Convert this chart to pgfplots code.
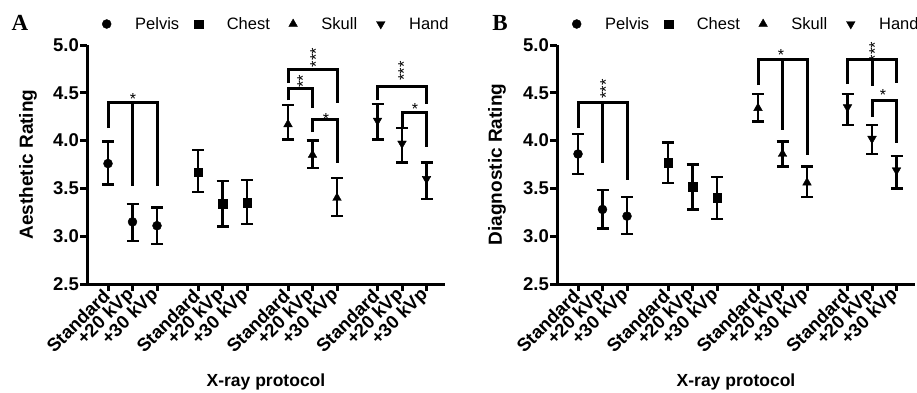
\documentclass[border=0pt]{standalone}
\usepackage{fontspec}
\setmainfont{Liberation Sans}
\newfontfamily\panelfont{Liberation Serif}
\usepackage{pgfplots}
\usepackage{pgfplotstable}
\pgfplotsset{compat=1.18}

% Panel A (Aesthetic)
\pgfplotstableread{
x y hi lo
21 3.76 3.99 3.54
45.5 3.15 3.34 2.95
70 3.11 3.30 2.92
}\pelA
\pgfplotstableread{
x y hi lo
111 3.67 3.90 3.46
135.5 3.34 3.58 3.10
160 3.35 3.59 3.13
}\cheA
\pgfplotstableread{
x y hi lo
201 4.17 4.37 4.01
225.5 3.85 4.00 3.71
250 3.40 3.61 3.21
}\skuA
\pgfplotstableread{
x y hi lo
290.5 4.21 4.38 4.01
315 3.97 4.13 3.77
339.5 3.60 3.77 3.39
}\hanA
% Panel B (Diagnostic)
\pgfplotstableread{
x y hi lo
21 3.86 4.07 3.65
45.5 3.28 3.48 3.08
70 3.21 3.41 3.02
}\pelB
\pgfplotstableread{
x y hi lo
111 3.77 3.98 3.56
135.5 3.52 3.75 3.28
160 3.40 3.62 3.18
}\cheB
\pgfplotstableread{
x y hi lo
201 4.34 4.49 4.20
225.5 3.86 3.99 3.73
250 3.56 3.73 3.41
}\skuB
\pgfplotstableread{
x y hi lo
290.5 4.35 4.49 4.16
315 4.02 4.16 3.86
339.5 3.69 3.84 3.50
}\hanB

\pgfplotsset{
  table/errcols/.style={x=x, y=y, y error plus expr=\thisrow{hi}-\thisrow{y}, y error minus expr=\thisrow{y}-\thisrow{lo}},
  myaxis/.style={
    scale only axis, width=358pt, height=239pt,
    xmin=0, xmax=358, ymin=2.5, ymax=5.0,
    axis x line=bottom, axis y line=left,
    axis line style={-, line width=3pt, black},
    ytick={2.5,3.0,3.5,4.0,4.5,5.0},
    /pgf/number format/fixed, /pgf/number format/fixed zerofill, /pgf/number format/precision=1,
    /pgf/number format/assume math mode=true,
    xtick={21,45.5,70,111,135.5,160,201,225.5,250,290.5,315,339.5},
    xticklabels={Standard,+20 kVp,+30 kVp,Standard,+20 kVp,+30 kVp,Standard,+20 kVp,+30 kVp,Standard,+20 kVp,+30 kVp},
    tick style={line width=3pt, black},
    major tick length=7pt,
    tick align=outside,
    ticklabel style={font=\bfseries\fontsize{18.5}{20}\selectfont},
    yticklabel style={inner xsep=1pt},
    xticklabel style={rotate=45, anchor=east, inner sep=2pt},
    clip=false,
    legend columns=4,
    legend image code/.code={\draw[##1] plot coordinates {(0pt,0pt)};},
    legend style={draw=none, fill=none, at={(0,1)}, anchor=west,
      xshift=15pt, yshift=21pt, inner sep=0pt,
      font=\fontsize{16.5}{18}\selectfont,
      /tikz/every odd column/.append style={column sep=22pt},
      /tikz/every even column/.append style={column sep=0pt}},
  },
  pt/.style={black, only marks, forget plot,
    error bars/y dir=both, error bars/y explicit,
    error bars/error bar style={line width=2.3pt, black},
    error bars/error mark options={rotate=90, mark size=6pt, line width=2.3pt, black}},
  brk/.style={black, line width=3pt, no markers, forget plot, line join=miter},
}
\newcommand{\sstar}[2]{\node[anchor=base, inner sep=0pt, font=\fontsize{16}{16}\selectfont] at ([yshift=-9.3pt]axis cs:#1,#2) {*};}
\newcommand{\vstar}[3]{\node[rotate=90, anchor=base, inner sep=0pt, font=\fontsize{16.5}{16.5}\selectfont] at ([xshift=9.6pt]axis cs:#1,#2) {#3};}
\newcommand{\legendimgs}{%
  \addlegendimage{black, only marks, mark=*, mark size=4.5pt}
  \addlegendentry{\makebox[57pt][l]{Pelvis}}
  \addlegendimage{black, only marks, mark=square*, mark size=4.3pt}
  \addlegendentry{\makebox[60pt][l]{Chest}}
  \addlegendimage{black, only marks, mark=triangle*, mark size=5pt}
  \addlegendentry{\makebox[53pt][l]{Skull}}
  \addlegendimage{black, only marks, mark=triangle*, mark size=5pt, mark options={rotate=180}}
  \addlegendentry{\makebox[36pt][l]{Hand}}
}

\begin{document}
\begin{tikzpicture}
\useasboundingbox (0,0) rectangle (917pt,392pt);
% ---------------- Panel A ----------------
\begin{axis}[myaxis, at={(87pt,108pt)}, anchor=south west]
\legendimgs
\addplot[pt, mark=*, mark size=4.5pt] table[errcols] {\pelA};
\addplot[pt, mark=square*, mark size=4.3pt] table[errcols] {\cheA};
\addplot[pt, mark=triangle*, mark size=5pt] table[errcols] {\skuA};
\addplot[pt, mark=triangle*, mark size=5pt, mark options={rotate=180}] table[errcols] {\hanA};
% brackets
\addplot[brk] coordinates {(21,4.13) (21,4.40) (70,4.40) (70,3.52)};
\addplot[brk] coordinates {(45.5,4.40) (45.5,3.52)};
\addplot[brk] coordinates {(201,4.60) (201,4.74) (250,4.74) (250,4.39)};
\addplot[brk] coordinates {(201,4.42) (201,4.54) (225.5,4.54) (225.5,4.34)};
\addplot[brk] coordinates {(225.5,4.09) (225.5,4.22) (250,4.22) (250,3.77)};
\addplot[brk] coordinates {(290.5,4.42) (290.5,4.57) (339.5,4.57) (339.5,4.38)};
\addplot[brk] coordinates {(315,4.13) (315,4.29) (339.5,4.29) (339.5,3.93)};
\sstar{46}{4.48}
\vstar{225}{4.87}{***}
\vstar{212}{4.62}{**}
\sstar{239}{4.27}
\vstar{313}{4.73}{***}
\sstar{328}{4.37}
\node[font=\bfseries\fontsize{19}{21}\selectfont, rotate=90] at ([xshift=-59pt]rel axis cs:0,0.5) {Aesthetic Rating};
\node[font=\bfseries\fontsize{17.5}{20}\selectfont] at ([yshift=-98pt]rel axis cs:0.5,0) {X-ray protocol};
\node[font=\panelfont\bfseries\fontsize{23}{24}\selectfont] at ([xshift=-67pt,yshift=22pt]rel axis cs:0,1) {A};
\end{axis}
% ---------------- Panel B ----------------
\begin{axis}[myaxis, at={(557pt,108pt)}, anchor=south west]
\legendimgs
\addplot[pt, mark=*, mark size=4.5pt] table[errcols] {\pelB};
\addplot[pt, mark=square*, mark size=4.3pt] table[errcols] {\cheB};
\addplot[pt, mark=triangle*, mark size=5pt] table[errcols] {\skuB};
\addplot[pt, mark=triangle*, mark size=5pt, mark options={rotate=180}] table[errcols] {\hanB};
% brackets
\addplot[brk] coordinates {(21,4.13) (21,4.40) (70,4.40) (70,3.59)};
\addplot[brk] coordinates {(45.5,4.40) (45.5,3.77)};
\addplot[brk] coordinates {(201,4.58) (201,4.85) (250,4.85) (250,3.85)};
\addplot[brk] coordinates {(225.5,4.85) (225.5,4.11)};
\addplot[brk] coordinates {(290.5,4.59) (290.5,4.85) (339.5,4.85) (339.5,4.60)};
\addplot[brk] coordinates {(315,4.85) (315,4.57)};
\addplot[brk] coordinates {(315,4.25) (315,4.42) (339.5,4.42) (339.5,3.97)};
\vstar{45}{4.54}{***}
\sstar{224}{4.93}
\vstar{314}{4.93}{***}
\sstar{326}{4.52}
\node[font=\bfseries\fontsize{19}{21}\selectfont, rotate=90] at ([xshift=-60pt]rel axis cs:0,0.5) {Diagnostic Rating};
\node[font=\bfseries\fontsize{17.5}{20}\selectfont] at ([yshift=-98pt]rel axis cs:0.5,0) {X-ray protocol};
\node[font=\panelfont\bfseries\fontsize{23}{24}\selectfont] at ([xshift=-57pt,yshift=22pt]rel axis cs:0,1) {B};
\end{axis}
\end{tikzpicture}
\end{document}
